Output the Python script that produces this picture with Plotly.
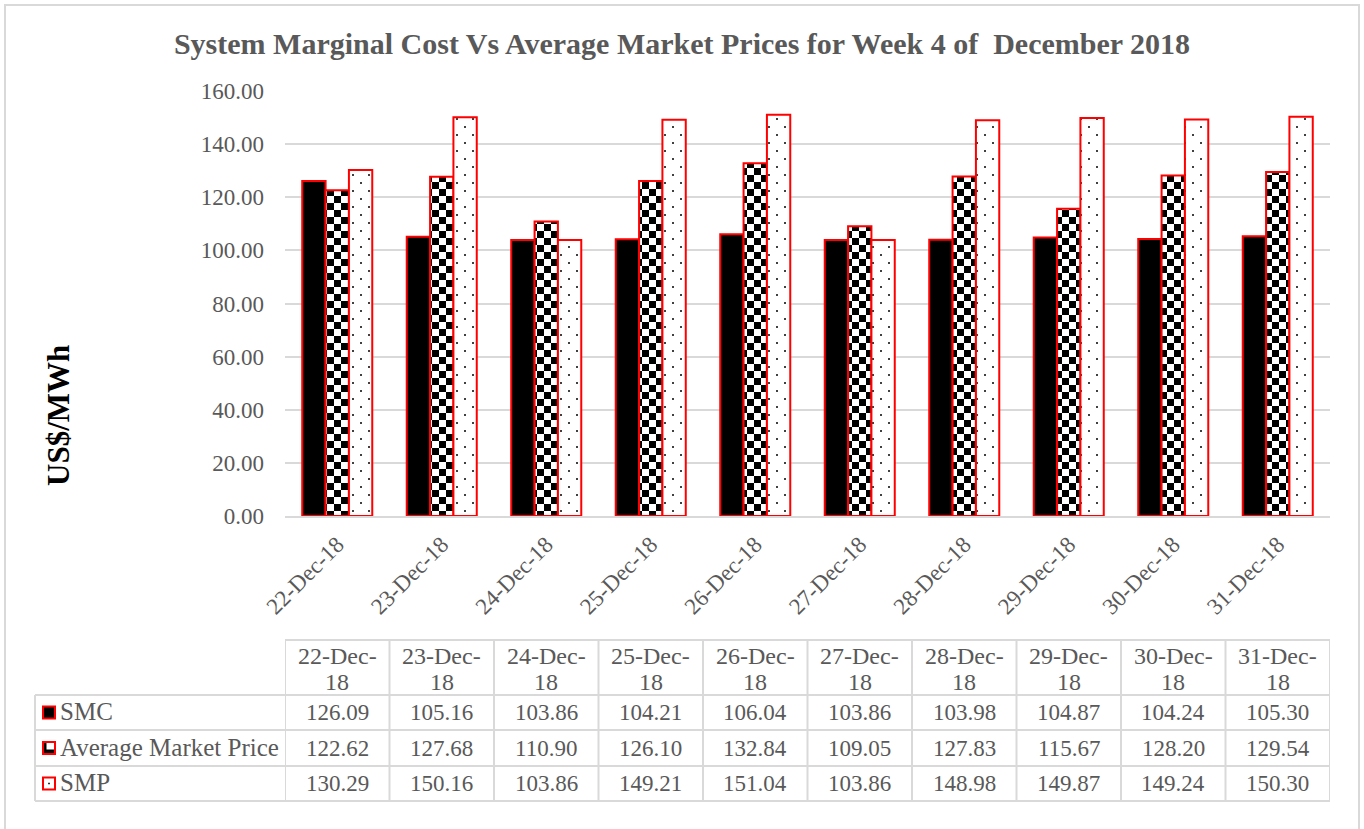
import plotly.graph_objects as go

dates = ["22-Dec-18", "23-Dec-18", "24-Dec-18", "25-Dec-18", "26-Dec-18",
         "27-Dec-18", "28-Dec-18", "29-Dec-18", "30-Dec-18", "31-Dec-18"]
smc = [126.09, 105.16, 103.86, 104.21, 106.04, 103.86, 103.98, 104.87, 104.24, 105.30]
amp = [122.62, 127.68, 110.90, 126.10, 132.84, 109.05, 127.83, 115.67, 128.20, 129.54]
smp = [130.29, 150.16, 103.86, 149.21, 151.04, 103.86, 148.98, 149.87, 149.24, 150.30]
series_names = ["SMC", "Average Market Price", "SMP"]
y_ticks = [0, 20, 40, 60, 80, 100, 120, 140, 160]

W, H = 1364, 829
FONT = "Liberation Serif"
GRAY = "#595959"
GRID = "#d9d9d9"
RED = "#ff0000"
VFS = 23  # table value font size
HFS = 24  # table header font size


def px(x):
    return x / W


def py(y):
    return 1 - y / H


fig = go.Figure()
fig.add_trace(go.Bar(x=dates, y=smc, name=series_names[0],
                     marker=dict(color="black", line=dict(color=RED, width=2))))
fig.add_trace(go.Bar(x=dates, y=amp, name=series_names[1],
                     marker=dict(color="white", line=dict(color=RED, width=2),
                                 pattern=dict(shape="x", fgcolor="black", bgcolor="white",
                                              size=14, solidity=0.5))))
fig.add_trace(go.Bar(x=dates, y=smp, name=series_names[2],
                     marker=dict(color="white", line=dict(color=RED, width=2),
                                 pattern=dict(shape=".", fgcolor="#404040", bgcolor="white",
                                              size=11, solidity=0.03))))

shapes = []
annotations = []

# outer border
shapes.append(dict(type="rect", xref="paper", yref="paper", x0=px(5), x1=px(1359),
                   y0=py(834), y1=py(5), line=dict(color=GRID, width=2)))

# table geometry
rows_y = [640, 695, 730, 766, 801]
left_x = px(35)
shapes.append(dict(type="line", xref="x", yref="paper", x0=-0.5, x1=9.5,
                   y0=py(rows_y[0]), y1=py(rows_y[0]), line=dict(color=GRID, width=2)))
for ry in rows_y[1:]:
    shapes.append(dict(type="line", xref="paper", yref="paper", x0=left_x, x1=px(1330),
                       y0=py(ry), y1=py(ry), line=dict(color=GRID, width=2)))
for i in range(len(dates) + 1):
    shapes.append(dict(type="line", xref="x", yref="paper", x0=i - 0.5, x1=i - 0.5,
                       y0=py(rows_y[-1]), y1=py(rows_y[0]), line=dict(color=GRID, width=2)))
shapes.append(dict(type="line", xref="paper", yref="paper", x0=left_x, x1=left_x,
                   y0=py(rows_y[-1]), y1=py(rows_y[1]), line=dict(color=GRID, width=2)))

# header cells
for i, d in enumerate(dates):
    a, b = d.rsplit("-", 1)
    annotations.append(dict(x=d, xref="x", y=py(656), yref="paper", text=a + "-",
                            xanchor="center", yanchor="middle", showarrow=False,
                            font=dict(family=FONT, size=HFS, color=GRAY)))
    annotations.append(dict(x=d, xref="x", y=py(682), yref="paper", text=b,
                            xanchor="center", yanchor="middle", showarrow=False,
                            font=dict(family=FONT, size=HFS, color=GRAY)))

# data rows
series_vals = [smc, amp, smp]
for r, (name, vals) in enumerate(zip(series_names, series_vals)):
    cy = (rows_y[r + 1] + rows_y[r + 2]) / 2
    for d, v in zip(dates, vals):
        annotations.append(dict(x=d, xref="x", y=py(cy), yref="paper",
                                text=f"{v:.2f}", xanchor="center", yanchor="middle",
                                showarrow=False, font=dict(family=FONT, size=VFS, color=GRAY)))
    annotations.append(dict(x=px(58), xref="paper", y=py(cy - 1), yref="paper",
                            xanchor="left", yanchor="middle", text=name, showarrow=False,
                            font=dict(family=FONT, size=25, color=GRAY)))
    kx0, kx1 = px(43), px(55)
    ky0, ky1 = py(cy + 6), py(cy - 6)
    if r == 0:
        shapes.append(dict(type="rect", xref="paper", yref="paper", x0=kx0, x1=kx1, y0=ky0, y1=ky1,
                           fillcolor="black", line=dict(color=RED, width=2)))
    elif r == 1:
        shapes.append(dict(type="rect", xref="paper", yref="paper", x0=kx0, x1=kx1, y0=ky0, y1=ky1,
                           fillcolor="white", line=dict(color=RED, width=2)))
        shapes.append(dict(type="rect", xref="paper", yref="paper", x0=px(44), x1=px(46.5),
                           y0=py(cy + 5), y1=py(cy - 5), fillcolor="black", line=dict(width=0)))
        shapes.append(dict(type="rect", xref="paper", yref="paper", x0=px(44), x1=px(54),
                           y0=py(cy + 5), y1=py(cy + 1.5), fillcolor="black", line=dict(width=0)))
    else:
        shapes.append(dict(type="rect", xref="paper", yref="paper", x0=kx0, x1=kx1, y0=ky0, y1=ky1,
                           fillcolor="white", line=dict(color=RED, width=2)))
        shapes.append(dict(type="rect", xref="paper", yref="paper", x0=px(48.2), x1=px(49.8),
                           y0=py(cy + 0.8), y1=py(cy - 0.8), fillcolor="black", line=dict(width=0)))

# y-axis title
annotations.append(dict(x=px(58), xref="paper", y=py(415), yref="paper", text="<b>US$/MWh</b>",
                        xanchor="center", yanchor="middle", textangle=-90, showarrow=False,
                        font=dict(family=FONT, size=31, color="black")))

fig.update_layout(
    width=W, height=H,
    margin=dict(l=0, r=0, t=0, b=0, autoexpand=False),
    paper_bgcolor="white", plot_bgcolor="white",
    showlegend=False,
    barmode="group", bargap=0.33, bargroupgap=0,
    title=dict(text="<b>System Marginal Cost Vs Average Market Prices for Week 4 of  December 2018</b>",
               x=0.5, xanchor="center", y=py(43), yanchor="middle",
               font=dict(family=FONT, size=30, color=GRAY)),
    xaxis=dict(domain=[px(285), px(1330)], type="category", range=[-0.5, 9.5],
               tickangle=-45, tickfont=dict(family=FONT, size=23, color=GRAY),
               showline=True, linecolor=GRID, linewidth=2, ticks="", showgrid=False,
               ticklabelstandoff=4, automargin=False),
    yaxis=dict(domain=[py(516), py(91)], range=[0, 160], tickvals=y_ticks,
               tickformat=".2f", tickfont=dict(family=FONT, size=VFS, color=GRAY),
               showgrid=True, gridcolor=GRID, gridwidth=2, zeroline=False,
               showline=False, ticks="", ticklabelstandoff=20, automargin=False),
    shapes=shapes, annotations=annotations,
)

post_js = """
document.body.style.margin = '0';
var gd = document.getElementById('{plot_id}');
var ns = 'http://www.w3.org/2000/svg';
function mk(p, tag, attrs) {
  var e = document.createElementNS(ns, tag);
  for (var k in attrs) { e.setAttribute(k, attrs[k]); }
  p.appendChild(e);
}
gd.querySelectorAll('pattern').forEach(function (p) {
  if (p.querySelector('path')) {
    while (p.firstChild) { p.removeChild(p.firstChild); }
    p.setAttribute('width', 14); p.setAttribute('height', 14);
    mk(p, 'rect', {x: 0, y: 0, width: 14, height: 14, fill: 'white'});
    mk(p, 'rect', {x: 0, y: 0, width: 7, height: 7, fill: 'black'});
    mk(p, 'rect', {x: 7, y: 7, width: 7, height: 7, fill: 'black'});
  } else if (p.querySelector('circle')) {
    while (p.firstChild) { p.removeChild(p.firstChild); }
    p.setAttribute('width', 16); p.setAttribute('height', 16);
    mk(p, 'rect', {x: 0, y: 0, width: 16, height: 16, fill: 'white'});
    mk(p, 'rect', {x: 3, y: 3, width: 2, height: 2, fill: '#404040'});
    mk(p, 'rect', {x: 11, y: 11, width: 2, height: 2, fill: '#404040'});
  }
});
"""

fig.write_html("out.html", post_script=post_js, config={"displayModeBar": False})
